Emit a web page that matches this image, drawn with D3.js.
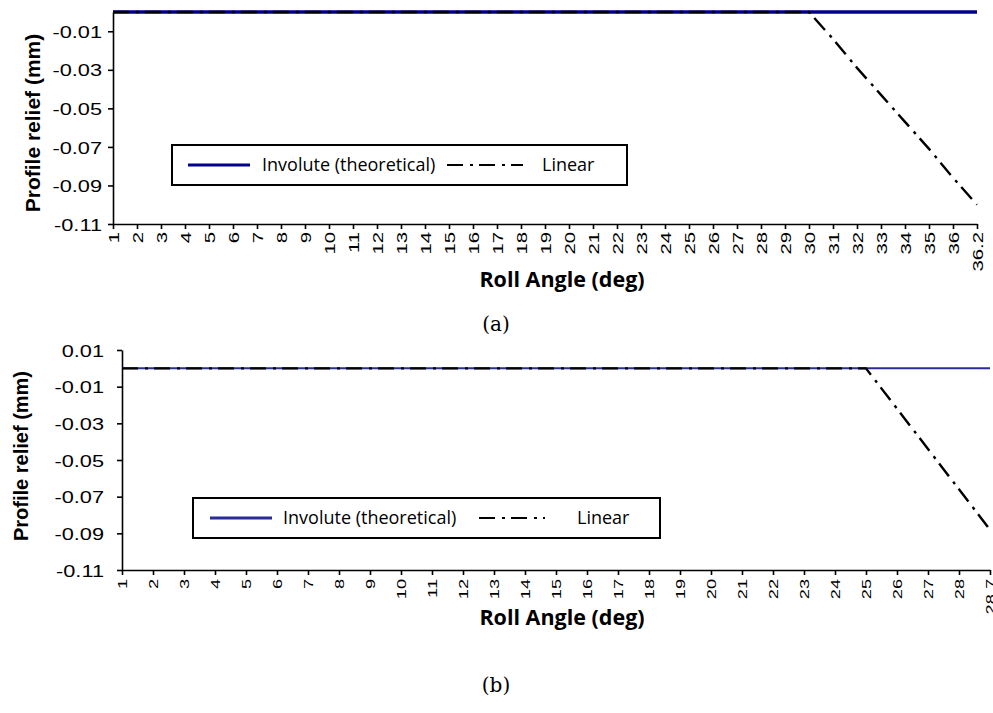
<!DOCTYPE html>
<html><head><meta charset="utf-8">
<script src="https://cdn.jsdelivr.net/npm/d3@7/dist/d3.min.js"></script>
<style>body{margin:0;background:#fff} svg{display:block}</style>
</head><body>
<svg id="c" width="993" height="713"></svg>
<script>
// ---------- data ----------
const categoriesA = ["1","2","3","4","5","6","7","8","9","10","11","12","13","14","15","16","17","18","19","20","21","22","23","24","25","26","27","28","29","30","31","32","33","34","35","36","36.2"];
const involuteA = [0,0,0,0,0,0,0,0,0,0,0,0,0,0,0,0,0,0,0,0,0,0,0,0,0,0,0,0,0,0,0,0,0,0,0,0,0];
const linearA   = [0,0,0,0,0,0,0,0,0,0,0,0,0,0,0,0,0,0,0,0,0,0,0,0,0,0,0,0,0,0,-0.014,-0.029,-0.043,-0.057,-0.071,-0.086,-0.1];
const yTicksA = [-0.11,-0.09,-0.07,-0.05,-0.03,-0.01];

const categoriesB = ["1","2","3","4","5","6","7","8","9","10","11","12","13","14","15","16","17","18","19","20","21","22","23","24","25","26","27","28","28.7"];
const involuteB = [0,0,0,0,0,0,0,0,0,0,0,0,0,0,0,0,0,0,0,0,0,0,0,0,0,0,0,0,0];
const linearB   = [0,0,0,0,0,0,0,0,0,0,0,0,0,0,0,0,0,0,0,0,0,0,0,0,0,-0.022,-0.044,-0.066,-0.088];
const yTicksB = [-0.11,-0.09,-0.07,-0.05,-0.03,-0.01,0.01];

const seriesNames = ["Involute (theoretical)", "Linear"];
const xTitle = "Roll Angle (deg)";
const yTitle = "Profile relief (mm)";
const captions = ["(a)", "(b)"];

// ---------- drawing ----------
const svg = d3.select("#c");
const DASH = "16,7,3,6";

function drawChart(cfg) {
  const g = svg.append("g");
  const x = d3.scalePoint().domain(cfg.cats).range([cfg.left, cfg.right]);
  const y = d3.scaleLinear().domain(cfg.yDomain).range([cfg.bottom, cfg.top]);

  // axes
  const ya = g.append("g").attr("transform", `translate(${cfg.left},0)`)
    .call(d3.axisLeft(y).tickValues(cfg.yTicks).tickSizeInner(5).tickSizeOuter(0)
      .tickFormat(d => d.toFixed(2)));
  ya.select(".domain").attr("stroke", "#000").attr("stroke-width", 1.6);
  ya.selectAll(".tick line").attr("stroke", "#000").attr("stroke-width", 1.6);
  ya.selectAll(".tick text")
    .attr("font-family", "'Liberation Sans', Arial, sans-serif")
    .attr("font-size", 17).attr("fill", "#000")
    .attr("x", 0).attr("dy", "0.36em")
    .attr("transform", `translate(${-cfg.yLabelGap},0) scale(1.28,1)`);

  const xa = g.append("g").attr("transform", `translate(0,${cfg.bottom})`)
    .call(d3.axisBottom(x).tickSizeInner(5).tickSizeOuter(0));
  xa.select(".domain").attr("stroke", "#000").attr("stroke-width", 1.6);
  xa.selectAll(".tick line").attr("stroke", "#000").attr("stroke-width", 1.6);
  xa.selectAll(".tick text")
    .attr("font-family", "'Liberation Sans', Arial, sans-serif")
    .attr("font-size", cfg.xFont).attr("fill", "#000")
    .attr("x", 0).attr("y", 0).attr("dy", "0.36em")
    .attr("text-anchor", "end")
    .attr("transform", `translate(0,${cfg.xLabelGap}) rotate(-90) scale(${cfg.xStretch},1)`);

  // series
  const line = d3.line().x((d, i) => x(cfg.cats[i])).y(d => y(d));
  g.append("path").datum(cfg.inv).attr("d", line)
    .attr("fill", "none").attr("stroke", cfg.blue).attr("stroke-width", cfg.blueW);
  g.append("path").datum(cfg.lin).attr("d", line)
    .attr("fill", "none").attr("stroke", "#000").attr("stroke-width", 2.4)
    .attr("stroke-dasharray", DASH);

  // axis titles
  g.append("text").text(xTitle)
    .attr("x", cfg.xTitleX).attr("y", cfg.xTitleY)
    .attr("text-anchor", "middle")
    .attr("font-family", "'Open Sans', sans-serif").attr("font-weight", "bold")
    .attr("font-size", 21.5).attr("fill", "#000");
  g.append("text").text(yTitle)
    .attr("transform", `translate(${cfg.yTitleX},${cfg.yTitleY}) rotate(-90)`)
    .attr("text-anchor", "middle")
    .attr("font-family", "'Liberation Sans', Arial, sans-serif").attr("font-weight", "bold")
    .attr("font-size", cfg.yTitleFont).attr("fill", "#000");

  // legend
  const L = cfg.legend;
  const lg = g.append("g").attr("transform", `translate(${L.x},${L.y})`);
  lg.append("rect").attr("width", L.w).attr("height", L.h)
    .attr("fill", "#fff").attr("stroke", "#000").attr("stroke-width", 2);
  const my = L.h / 2;
  lg.append("line").attr("x1", L.s1[0]).attr("x2", L.s1[1]).attr("y1", my).attr("y2", my)
    .attr("stroke", cfg.blue).attr("stroke-width", 3.2);
  lg.append("text").text(seriesNames[0]).attr("x", L.t1).attr("y", my).attr("dy", "0.35em")
    .attr("font-family", "'Open Sans', sans-serif").attr("font-size", 18).attr("fill", "#000");
  lg.append("line").attr("x1", L.s2[0]).attr("x2", L.s2[1]).attr("y1", my).attr("y2", my)
    .attr("stroke", "#000").attr("stroke-width", 2.2).attr("stroke-dasharray", DASH);
  lg.append("text").text(seriesNames[1]).attr("x", L.t2).attr("y", my).attr("dy", "0.35em")
    .attr("font-family", "'Open Sans', sans-serif").attr("font-size", 18).attr("fill", "#000");

  // caption
  g.append("text").text(cfg.caption)
    .attr("x", 496).attr("y", cfg.capY).attr("text-anchor", "middle")
    .attr("font-family", "'DejaVu Serif', serif").attr("font-size", 20).attr("fill", "#000");
}

drawChart({
  cats: categoriesA, inv: involuteA, lin: linearA, yTicks: yTicksA,
  yDomain: [-0.11, 0], left: 113, right: 977, top: 12, bottom: 224,
  blue: "#00008c", blueW: 3.6,
  yLabelGap: 11, xLabelGap: 8, xFont: 14, xStretch: 1.45,
  xTitleX: 562, xTitleY: 287, yTitleX: 40, yTitleY: 123, yTitleFont: 21,
  legend: { x: 172, y: 145, w: 455, h: 40, s1: [16, 78], t1: 90, s2: [275, 351], t2: 370 },
  caption: captions[0], capY: 331
});

drawChart({
  cats: categoriesB, inv: involuteB, lin: linearB, yTicks: yTicksB,
  yDomain: [-0.11, 0.01], left: 122, right: 990, top: 350, bottom: 570,
  blue: "#2b2b9b", blueW: 2,
  yLabelGap: 18, xLabelGap: 9, xFont: 13, xStretch: 1.4,
  xTitleX: 562, xTitleY: 625, yTitleX: 28, yTitleY: 456, yTitleFont: 20,
  legend: { x: 193, y: 498, w: 467, h: 40, s1: [17, 79], t1: 90, s2: [286, 352], t2: 384 },
  caption: captions[1], capY: 692
});
</script>
</body></html>
